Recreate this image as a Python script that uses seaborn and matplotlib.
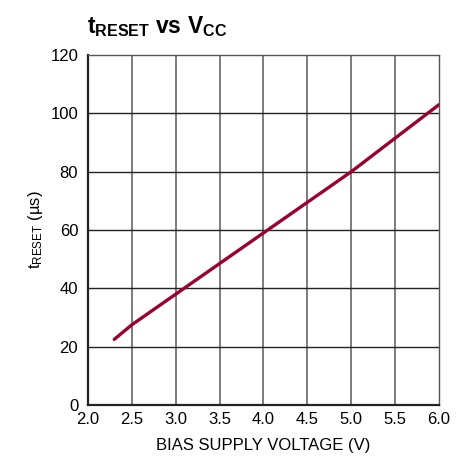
import seaborn as sns
import matplotlib.pyplot as plt
import pandas as pd

# reading off the curve
bias_v = [2.3, 2.5, 3.0, 3.5, 4.0, 4.5, 5.0, 5.5, 6.0]
t_reset = [22.5, 27.5, 38.0, 48.5, 59.0, 69.5, 80.0, 91.5, 103.0]

xticks = [2.0, 2.5, 3.0, 3.5, 4.0, 4.5, 5.0, 5.5, 6.0]
yticks = [0, 20, 40, 60, 80, 100, 120]

sns.set_style('white')
fnt = ['Liberation Sans', 'DejaVu Sans']
plt.rcParams['font.family'] = fnt
plt.rcParams['mathtext.fontset'] = 'custom'
plt.rcParams['mathtext.rm'] = 'Liberation Sans'
plt.rcParams['mathtext.bf'] = 'Liberation Sans:bold'
plt.rcParams['text.color'] = 'black'
plt.rcParams['xtick.color'] = 'black'
plt.rcParams['ytick.color'] = 'black'
plt.rcParams['axes.labelcolor'] = 'black'

df = pd.DataFrame({'v': bias_v, 't': t_reset})

fig = plt.figure(figsize=(4.7, 4.59), dpi=100)
ax = fig.add_axes([0.187, 0.1176, 0.747, 0.7624])

ax.set_xlim(2.0, 6.0)
ax.set_ylim(0, 120)
ax.set_xticks(xticks)
ax.set_yticks(yticks)
ax.set_xticklabels([f'{t:.1f}' for t in xticks])

for x in xticks[1:-1]:
    ax.axvline(x, color='#666666', lw=1.2, zorder=1)
for y in yticks[1:-1]:
    ax.axhline(y, color='#222222', lw=1.0, zorder=1)

sns.lineplot(data=df, x='v', y='t', color='#990033', lw=2.4, ax=ax, zorder=3)

for s in ['left', 'bottom']:
    ax.spines[s].set_color('#222222')
    ax.spines[s].set_linewidth(1.6)
for s in ['top', 'right']:
    ax.spines[s].set_color('#555555')
    ax.spines[s].set_linewidth(1.0)

ax.tick_params(labelsize=12, length=0)
ax.tick_params(axis='x', pad=5)
ax.tick_params(axis='y', pad=7)
ax.set_xlabel('BIAS SUPPLY VOLTAGE (V)', fontsize=12, labelpad=8)
ax.set_ylabel(r'$\mathrm{t_{RESET}}$ (µs)', fontsize=12, labelpad=4)

fig.text(0.185, 0.928, r'$\mathbf{t_{RESET}}$' + ' vs ' + r'$\mathbf{V_{CC}}$',
         fontsize=16.5, fontweight='bold', ha='left', va='baseline')

fig.savefig('out.png', dpi=100)
